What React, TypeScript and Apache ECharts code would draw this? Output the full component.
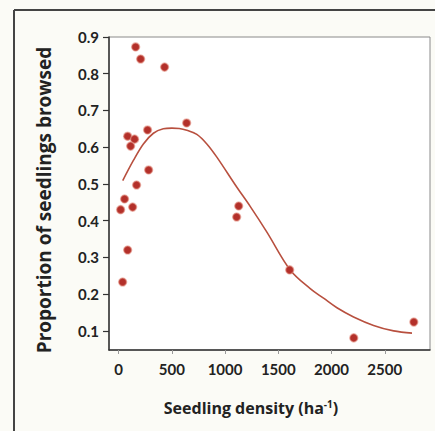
import React, { useEffect, useRef } from "react";
import * as echarts from "echarts";

// Observed browsing proportion at each seedling density (stems per ha)
const densityObs = [160, 207, 432, 639, 272, 85, 150, 113, 282, 169, 56, 19, 132, 85, 38, 1128, 1109, 1607, 2209, 2773];
const browsedObs = [0.873, 0.84, 0.818, 0.666, 0.647, 0.63, 0.622, 0.603, 0.538, 0.497, 0.459, 0.43, 0.437, 0.32, 0.233, 0.44, 0.41, 0.266, 0.081, 0.124];

// Fitted response curve
const fitDensity = [39, 139, 233, 327, 420, 500, 570, 641, 735, 829, 923, 1111, 1236, 1393, 1612, 1800, 1925, 2051, 2207, 2395, 2583, 2756];
const fitBrowsed = [0.509, 0.564, 0.609, 0.638, 0.65, 0.652, 0.651, 0.646, 0.635, 0.609, 0.573, 0.491, 0.439, 0.369, 0.266, 0.215, 0.189, 0.163, 0.138, 0.115, 0.1, 0.094];

const xTicks = [0, 500, 1000, 1500, 2000, 2500];
const yTicks = [0.1, 0.2, 0.3, 0.4, 0.5, 0.6, 0.7, 0.8, 0.9];

const FONT = "Lato, 'Open Sans', sans-serif";
const TITLE_FONT = "'Open Sans', Lato, sans-serif";

export default function App() {
  const ref = useRef<HTMLDivElement>(null);

  useEffect(() => {
    document.body.style.margin = "0";
    if (!ref.current) return;
    const chart = echarts.init(ref.current, null, { renderer: "svg" });

    const points = densityObs.map((d, i) => [d, browsedObs[i]]);
    const fit = fitDensity.map((d, i) => [d, fitBrowsed[i]]);

    chart.setOption({
      animation: false,
      backgroundColor: "#fbfbf6",
      grid: {
        left: 109,
        top: 37,
        right: 5,
        bottom: 81,
        show: true,
        backgroundColor: "#ffffff",
        borderColor: "#8a8a8a",
        borderWidth: 1,
      },
      xAxis: {
        type: "value",
        min: -90,
        max: 2925,
        axisLine: { show: true, onZero: false, lineStyle: { color: "#333", width: 1.5 } },
        axisTick: {
          show: true,
          customValues: xTicks,
          length: 4,
          lineStyle: { color: "#999", width: 1 },
        },
        axisLabel: {
          customValues: xTicks,
          margin: 11,
          color: "#222",
          fontFamily: FONT,
          fontWeight: "bold",
          fontSize: 15,
          formatter: (v: number) => String(v),
        },
        splitLine: { show: false },
      },
      yAxis: {
        type: "value",
        min: 0.048,
        max: 0.9,
        axisLine: { show: true, onZero: false, lineStyle: { color: "#333", width: 1.5 } },
        axisTick: {
          show: true,
          customValues: yTicks,
          length: 6,
          lineStyle: { color: "#333", width: 1.2 },
        },
        axisLabel: {
          customValues: yTicks,
          margin: 10,
          color: "#222",
          fontFamily: FONT,
          fontWeight: "bold",
          fontSize: 15,
          formatter: (v: number) => v.toFixed(1),
        },
        splitLine: { show: false },
      },
      graphic: [
        {
          type: "line",
          shape: { x1: 14, y1: 10, x2: 14, y2: 431 },
          style: { stroke: "#444", lineWidth: 2 },
        },
        {
          type: "line",
          shape: { x1: 14, y1: 10, x2: 435, y2: 10 },
          style: { stroke: "#444", lineWidth: 2 },
        },
        {
          type: "text",
          x: 44,
          y: 200,
          rotation: Math.PI / 2,
          style: {
            text: "Proportion of seedlings browsed",
            font: `bold 19px ${TITLE_FONT}`,
            fill: "#222",
            align: "center",
            verticalAlign: "middle",
          },
        },
        {
          type: "text",
          x: 251,
          y: 408,
          style: {
            text: "{t|Seedling density (ha}{s|-1}{t|)}",
            align: "center",
            verticalAlign: "middle",
            rich: {
              t: { font: `bold 16px ${TITLE_FONT}`, fill: "#222" },
              s: { font: `bold 10px ${TITLE_FONT}`, fill: "#222", verticalAlign: "top", padding: [0, 0, 8, 0] },
            },
          },
        },
      ],
      series: [
        {
          type: "line",
          data: fit,
          smooth: 0.35,
          showSymbol: false,
          lineStyle: { color: "#b8503f", width: 1.6 },
          z: 2,
        },
        {
          type: "scatter",
          data: points,
          symbolSize: 8,
          itemStyle: {
            color: "#b3302a",
            borderColor: "rgba(225,140,125,0.55)",
            borderWidth: 1.5,
            opacity: 1,
          },
          z: 3,
        },
      ],
    });

    return () => chart.dispose();
  }, []);

  return <div ref={ref} style={{ width: 435, height: 431, background: "#fbfbf6" }} />;
}
